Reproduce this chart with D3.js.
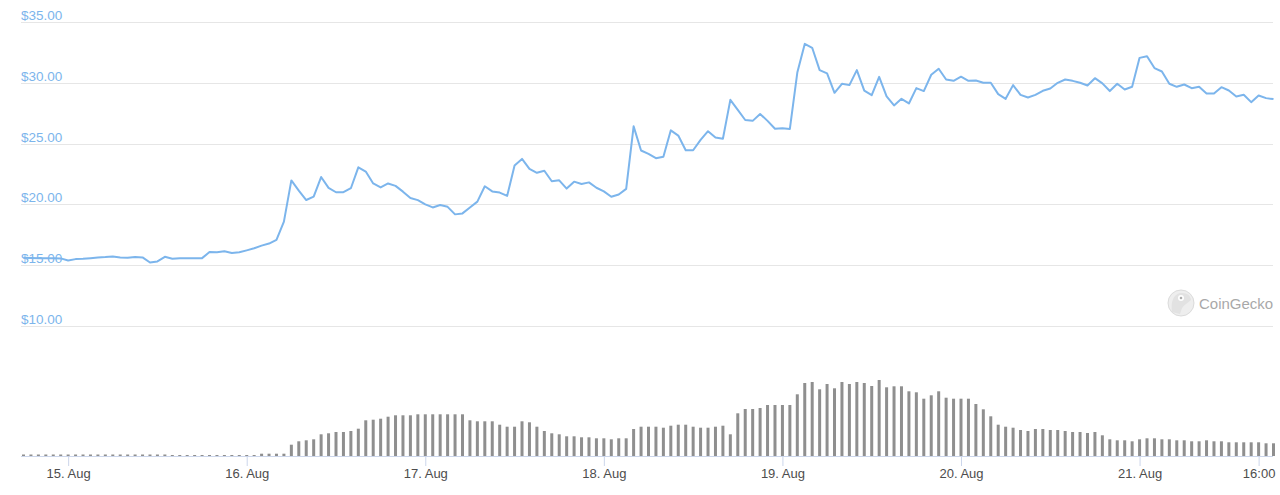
<!DOCTYPE html>
<html>
<head>
<meta charset="utf-8">
<script src="https://cdn.jsdelivr.net/npm/d3@7"></script>
<style>
  body { margin: 0; background: #fff; }
  svg { display: block; font-family: "Liberation Sans", Arial, Helvetica, sans-serif; }
</style>
</head>
<body>
<svg id="chart" width="1280" height="495"></svg>
<script>
// hourly points, first one at 14 Aug 18:00 (UTC)
const startTime = new Date(Date.UTC(2020, 7, 14, 18));

const prices = [
  15.62, 15.60, 15.58, 15.58, 15.58, 15.56, 15.39, 15.50, 15.53, 15.58,
  15.64, 15.67, 15.72, 15.64, 15.61, 15.67, 15.64, 15.22, 15.31, 15.69,
  15.53, 15.58, 15.58, 15.58, 15.58, 16.08, 16.06, 16.14, 16.00, 16.06,
  16.22, 16.39, 16.61, 16.78, 17.08, 18.58, 21.97, 21.14, 20.36, 20.64,
  22.25, 21.36, 21.00, 21.00, 21.33, 23.05, 22.70, 21.72, 21.40, 21.72,
  21.52, 21.05, 20.52, 20.35, 20.00, 19.75, 19.95, 19.80, 19.18, 19.26,
  19.75, 20.23, 21.49, 21.07, 20.97, 20.70, 23.20, 23.74, 22.92, 22.60,
  22.77, 21.90, 21.98, 21.30, 21.87, 21.68, 21.81, 21.37, 21.07, 20.63,
  20.82, 21.28, 26.42, 24.43, 24.15, 23.80, 23.91, 26.09, 25.66, 24.45,
  24.45, 25.30, 26.02, 25.50, 25.40, 28.60, 27.77, 26.94, 26.87, 27.44,
  26.87, 26.22, 26.27, 26.21, 30.84, 33.20, 32.88, 31.04, 30.77, 29.18,
  29.92, 29.81, 31.04, 29.35, 28.98, 30.49, 28.88, 28.14, 28.68, 28.30,
  29.56, 29.32, 30.66, 31.16, 30.27, 30.16, 30.50, 30.16, 30.19, 30.00,
  30.00, 29.07, 28.68, 29.81, 29.01, 28.79, 29.01, 29.34, 29.53, 30.00,
  30.27, 30.16, 30.00, 29.78, 30.38, 29.95, 29.32, 29.92, 29.45, 29.67,
  32.05, 32.19, 31.21, 30.93, 29.92, 29.67, 29.86, 29.56, 29.67, 29.12,
  29.12, 29.64, 29.37, 28.88, 29.01, 28.41, 28.96, 28.74, 28.66
];

// volume in $M
const volumes = [
  1.5, 1.5, 1.5, 1.5, 1.5, 1.5, 1.5, 1.5, 1.5, 1.5,
  1.5, 1.5, 1.5, 1.5, 1.5, 1.5, 1.5, 1.5, 1.5, 1.5,
  1.0, 1.0, 1.0, 1.0, 1.0, 1.0, 1.0, 1.0, 1.0, 1.0,
  1.0, 1.0, 2.3, 2.3, 2.3, 2.3, 11.3, 14.7, 15.7, 16.7,
  21.7, 22.7, 24, 24, 25, 27.3, 35.7, 36.3, 37.3, 39.3,
  40.7, 40.7, 40.7, 41.7, 41.7, 41.7, 41.7, 41.7, 41.7, 41.7,
  35.7, 34.7, 34.7, 34.7, 31.3, 29.3, 29.3, 34.7, 33.7, 29.3,
  25, 22.7, 21.7, 19.7, 19.7, 18.7, 18.7, 17.7, 17.7, 16.7,
  17.7, 17.7, 27, 29.3, 29.3, 29.3, 28.3, 30.3, 31.3, 31.3,
  29.3, 28.3, 28.3, 29.3, 30.3, 21.7, 42.7, 47, 47, 48,
  51, 51, 51, 51, 61.7, 73, 74, 66.7, 72, 67.7,
  74, 72, 74, 73, 70, 76, 68.7, 69.7, 69.7, 64.7,
  63.7, 57.3, 60.7, 64.7, 58.3, 57.3, 57.3, 57.3, 52, 46.7,
  39.7, 31.3, 29.3, 28.3, 26, 25, 27, 27, 26, 26,
  25, 24, 24, 23, 24, 20.7, 16.7, 15.7, 15.7, 14.7,
  16.7, 17.7, 17.7, 16.7, 16.7, 15.7, 15.7, 14.7, 14.7, 15.7,
  14.7, 14.7, 13.7, 13.7, 13.7, 13.7, 13.7, 12.7, 12.7
];

const priceTicks = [10, 15, 20, 25, 30, 35];
const xTicks = [
  new Date(Date.UTC(2020, 7, 15)), new Date(Date.UTC(2020, 7, 16)),
  new Date(Date.UTC(2020, 7, 17)), new Date(Date.UTC(2020, 7, 18)),
  new Date(Date.UTC(2020, 7, 19)), new Date(Date.UTC(2020, 7, 20)),
  new Date(Date.UTC(2020, 7, 21)), new Date(Date.UTC(2020, 7, 21, 16))
];

const data = prices.map((p, i) => ({
  time: d3.utcHour.offset(startTime, i),
  price: p,
  volume: volumes[i]
}));

const svg = d3.select('#chart');
const left = 21, right = 1273;

const x = d3.scaleUtc()
    .domain(d3.extent(data, d => d.time))
    .range([23.5, 1273.5]);

const y = d3.scaleLinear()
    .domain([10, 35])
    .range([326, 22]);

const yVol = d3.scaleLinear()
    .domain([0, 80])
    .range([456, 376]);

// grid lines + price labels
const grid = svg.append('g');
grid.selectAll('line')
    .data(priceTicks)
    .enter().append('line')
    .attr('x1', left)
    .attr('x2', right)
    .attr('y1', d => Math.round(y(d)) + 0.5)
    .attr('y2', d => Math.round(y(d)) + 0.5)
    .attr('stroke', '#e6e6e6')
    .attr('stroke-width', 1);

grid.selectAll('text')
    .data(priceTicks)
    .enter().append('text')
    .attr('x', left)
    .attr('y', d => y(d) - 2)
    .attr('fill', '#7cb5ec')
    .attr('font-size', 13.5)
    .text(d => '$' + d.toFixed(2));

// volume bars
svg.append('g')
    .selectAll('rect')
    .data(data)
    .enter().append('rect')
    .attr('x', d => x(d.time) - 1.5)
    .attr('width', 3)
    .attr('y', d => yVol(d.volume))
    .attr('height', d => yVol(0) - yVol(d.volume))
    .attr('fill', '#8f8f8f');

// x axis
const xAxis = svg.append('g')
    .attr('transform', 'translate(0,456)')
    .call(d3.axisBottom(x)
        .tickValues(xTicks)
        .tickSize(10)
        .tickFormat(d => d.getUTCHours() === 0 ? d3.utcFormat('%-d. %b')(d) : d3.utcFormat('%H:%M')(d)));

xAxis.select('.domain')
    .attr('d', 'M' + left + ',0.5H' + right)
    .attr('stroke', '#ccd6eb');
xAxis.selectAll('.tick line').attr('stroke', '#ccd6eb');
xAxis.selectAll('.tick text')
    .attr('y', 13)
    .attr('fill', '#4d4d4d')
    .attr('font-size', 13)
    .attr('font-family', '"Liberation Sans", Arial, sans-serif');

// price line
const line = d3.line()
    .x(d => x(d.time))
    .y(d => y(d.price));

svg.append('path')
    .datum(data)
    .attr('d', line)
    .attr('fill', 'none')
    .attr('stroke', '#7cb5ec')
    .attr('stroke-width', 2)
    .attr('stroke-linejoin', 'round');

// CoinGecko watermark
const wm = svg.append('g').attr('opacity', 0.6);
wm.append('circle')
    .attr('cx', 1181).attr('cy', 303).attr('r', 13)
    .attr('fill', '#e3e3e3').attr('stroke', '#c4c4c4');
wm.append('path')
    .attr('d', 'M1172,312 Q1170,296 1180,293 Q1190,292 1191,300 L1186,304 Q1182,306 1180,314 Z')
    .attr('fill', '#cfcfcf');
wm.append('circle')
    .attr('cx', 1181).attr('cy', 298).attr('r', 3)
    .attr('fill', '#fff');
wm.append('circle')
    .attr('cx', 1181).attr('cy', 298).attr('r', 1.3)
    .attr('fill', '#777');
wm.append('text')
    .attr('x', 1199)
    .attr('y', 308.5)
    .attr('fill', '#6f6f6f')
    .attr('font-size', 15)
    .text('CoinGecko');
</script>
</body>
</html>
